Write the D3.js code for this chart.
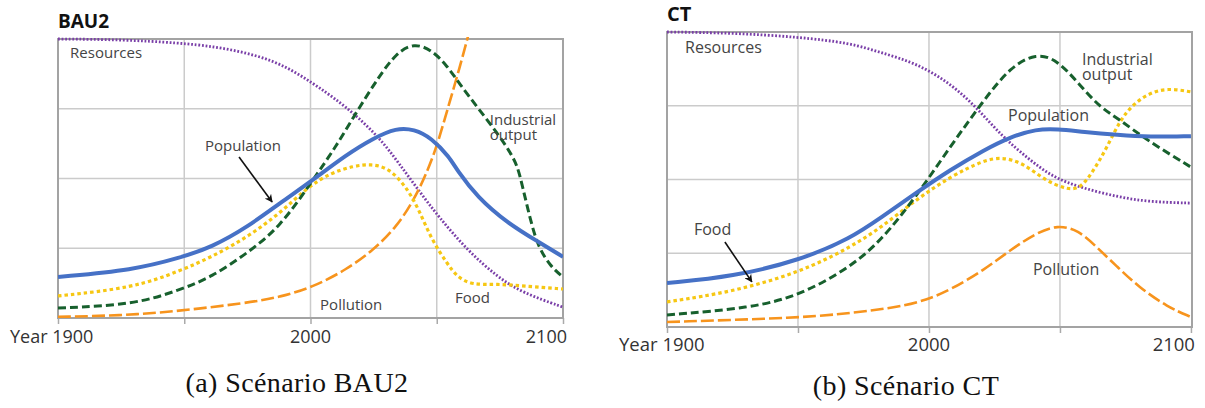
<!DOCTYPE html>
<html>
<head>
<meta charset="utf-8">
<script src="https://cdn.jsdelivr.net/npm/d3@7"></script>
<style>
  html, body { margin: 0; padding: 0; background: #fff; }
  svg { display: block; }
  .note { font-family: "Open Sans", sans-serif; fill: #444; }
  .tick-label { font-family: "Open Sans", sans-serif; fill: #333; }
  .title { font-family: "Open Sans", sans-serif; font-weight: bold; fill: #111; }
  .caption { font-family: "Liberation Serif", serif; fill: #111; }
</style>
</head>
<body>
<svg id="chart" width="1205" height="408"></svg>
<script>
/* World3 scenarios — BAU2 vs CT, two small panels */

// ─── Data: [year, relative value 0–100] ──────────────────
const years = [1900, 1950, 2000, 2050, 2100];
const gridValues = [25, 50, 75];

const bau2Resources = [[1900,100],[1925,99.8],[1948,98.6],[1962,97.3],[1975,95.0],[1988,91.4],[2001,84.2],[2012,77.1],[2020,71.0],[2028,63.8],[2035,55.5],[2043,45.5],[2051,36.0],[2062,24.4],[2074,14.7],[2084,9.0],[2100,3.9]];
const bau2Population = [[1900,14.7],[1930,17.2],[1948,21.5],[1961,25.4],[1975,32.6],[1988,41.2],[2001,49.5],[2014,58.4],[2025,64.5],[2034,68.1],[2041,67.7],[2048,64.5],[2055,57.7],[2058,53.0],[2066,43.4],[2078,34.0],[2091,26.9],[2100,21.9]];
const bau2Food = [[1900,7.9],[1930,10.8],[1948,16.8],[1961,21.9],[1975,29.0],[1988,37.6],[1999,47.0],[2008,52.0],[2017,54.5],[2024,55.2],[2031,53.8],[2038,47.0],[2043,38.7],[2048,28.0],[2054,19.7],[2058,14.7],[2064,11.8],[2074,12.2],[2084,11.5],[2100,10.4]];
const bau2Industry = [[1900,3.6],[1930,4.7],[1948,10.0],[1961,14.7],[1975,23.3],[1988,32.6],[2001,49.5],[2010,61.3],[2018,73.5],[2027,86.4],[2034,95.0],[2041,98.6],[2048,96.1],[2054,90.5],[2059,84.0],[2066,75.6],[2074,66.3],[2079,59.5],[2082,54.5],[2084,47.0],[2087,35.5],[2090,25.8],[2095,18.5],[2100,14.7]];
const bau2Pollution = [[1900,0.4],[1925,0.9],[1945,2.2],[1975,5.4],[1988,7.5],[2001,11.1],[2014,17.2],[2025,24.4],[2034,32.6],[2041,42.3],[2046,52.0],[2050,61.3],[2055,77.1],[2059,89.5],[2062,99.6],[2065,110]];

const ctResources = [[1900,100],[1925,99.7],[1950,98.3],[1970,96.3],[1982,92.9],[1995,89.5],[2008,82.7],[2018,74.6],[2028,64.5],[2038,57.0],[2047,50.9],[2058,47.2],[2072,44.1],[2084,42.4],[2100,42.0]];
const ctPopulation = [[1900,14.9],[1925,17.0],[1951,22.7],[1970,30.0],[1982,37.3],[1995,45.4],[2008,53.2],[2021,60.0],[2031,64.4],[2041,67.1],[2049,67.1],[2059,66.1],[2072,65.1],[2084,64.4],[2100,64.7]];
const ctFood = [[1900,8.5],[1925,11.9],[1951,18.6],[1970,27.0],[1982,33.9],[1995,43.1],[2008,50.9],[2021,56.6],[2028,57.6],[2036,55.6],[2044,49.8],[2053,46.4],[2058,47.1],[2063,53.2],[2068,61.0],[2073,70.2],[2078,75.5],[2084,79.3],[2091,81.0],[2100,79.7]];
const ctIndustry = [[1900,4.1],[1932,6.4],[1951,10.8],[1970,20.3],[1982,29.5],[1995,44.1],[2008,61.0],[2021,77.0],[2031,88.1],[2041,92.9],[2049,90.5],[2057,82.7],[2065,74.6],[2073,70.2],[2083,63.4],[2100,54.2]];
const ctPollution = [[1900,1.7],[1951,3.1],[1970,4.7],[1989,6.8],[1999,9.2],[2008,12.5],[2021,19.3],[2031,26.1],[2041,31.9],[2049,34.6],[2057,32.9],[2064,27.1],[2072,20.3],[2080,13.6],[2091,6.8],[2100,3.4]];

// labels: [lines, year, value]
const bau2Notes = [[['Resources'],1904.8,93.2],[['Population'],1958.2,59.9],[['Industrial','output'],2071,69.2],[['Pollution'],2003.8,2.9],[['Food'],2057.2,5.4]];
const ctNotes = [[['Resources'],1906.9,92.9],[['Industrial','output'],2058.4,88.8],[['Population'],2030.2,69.8],[['Food'],1910.3,31.2],[['Pollution'],2039.7,17.6]];

// ─── Styles ──────────────────────────────────────────────
const styles = {
  resources:  { color: '#7a3fa8', width: 2.8, dash: '1.8,1.8' },
  pollution:  { color: '#f7941d', width: 2.6, dash: '13,4' },
  food:       { color: '#f6c713', width: 3.2, dash: '3.5,3' },
  industry:   { color: '#17602d', width: 3,   dash: '8,4' },
  population: { color: '#4671c6', width: 4,   dash: null },
};

const panels = [
  {
    id: 'a', title: 'BAU2', caption: '(a) Scénario BAU2',
    left: 58, right: 563, top: 39, bottom: 318, xEnd: 2100,
    titleSize: 19, noteSize: 15, noteGap: 15.5, tickSize: 18, labelDy: 25,
    captionX: 297, captionY: 392,
    series: { resources: bau2Resources, pollution: bau2Pollution, food: bau2Food, industry: bau2Industry, population: bau2Population },
    notes: bau2Notes, arrow: [[1971.7,57.7],[1984.8,41.6]],
  },
  {
    id: 'b', title: 'CT', caption: '(b) Scénario CT',
    left: 667, right: 1192, top: 32, bottom: 327, xEnd: 2100.4,
    titleSize: 20, noteSize: 16, noteGap: 15, tickSize: 18.5, labelDy: 24,
    captionX: 906, captionY: 395,
    series: { resources: ctResources, pollution: ctPollution, food: ctFood, industry: ctIndustry, population: ctPopulation },
    notes: ctNotes, arrow: [[1922.1,28.8],[1932.4,15.3]],
  },
];

const svg = d3.select('#chart');
const defs = svg.append('defs');

defs.append('marker')
  .attr('id', 'arrowhead')
  .attr('viewBox', '0 0 10 10')
  .attr('refX', 9).attr('refY', 5)
  .attr('markerWidth', 8).attr('markerHeight', 8)
  .attr('markerUnits', 'userSpaceOnUse')
  .attr('orient', 'auto')
  .append('path')
  .attr('d', 'M0,0 L10,5 L0,10 L3,5 Z')
  .attr('fill', '#111');

// ─── Draw each panel ─────────────────────────────────────
panels.forEach(p => {
  const x = d3.scaleLinear().domain([1900, p.xEnd]).range([p.left, p.right]);
  const y = d3.scaleLinear().domain([0, 100]).range([p.bottom, p.top]);
  const g = svg.append('g');

  defs.append('clipPath').attr('id', `clip-${p.id}`)
    .append('rect')
    .attr('x', p.left).attr('y', p.top - 2)
    .attr('width', p.right - p.left).attr('height', p.bottom - p.top + 2);

  // grid
  g.append('g').selectAll('line')
    .data(gridValues).join('line')
    .attr('x1', p.left).attr('x2', p.right)
    .attr('y1', d => y(d)).attr('y2', d => y(d))
    .attr('stroke', '#cbcbcb').attr('stroke-width', 1.5);

  g.append('g').selectAll('line')
    .data(years.slice(1, -1)).join('line')
    .attr('x1', d => x(d)).attr('x2', d => x(d))
    .attr('y1', p.top).attr('y2', p.bottom)
    .attr('stroke', '#cbcbcb').attr('stroke-width', 1.5);

  // ticks below the frame
  const axis = d3.axisBottom(x).tickValues(years).tickSize(6).tickFormat('');
  const ax = g.append('g').attr('transform', `translate(0,${p.bottom})`).call(axis);
  ax.select('.domain').remove();
  ax.selectAll('.tick line').attr('stroke', '#aaa').attr('stroke-width', 1.5);

  // frame
  g.append('rect')
    .attr('x', p.left).attr('y', p.top)
    .attr('width', p.right - p.left).attr('height', p.bottom - p.top)
    .attr('fill', 'none').attr('stroke', '#a3a3a3').attr('stroke-width', 2);

  // series
  const line = d3.line()
    .x(d => x(d[0])).y(d => y(d[1]))
    .curve(d3.curveBasis);

  const lines = g.append('g').attr('clip-path', `url(#clip-${p.id})`);
  ['resources', 'pollution', 'food', 'industry', 'population'].forEach(key => {
    const s = styles[key];
    lines.append('path')
      .datum(p.series[key])
      .attr('d', line)
      .attr('fill', 'none')
      .attr('stroke', s.color)
      .attr('stroke-width', s.width)
      .attr('stroke-dasharray', s.dash)
      .attr('stroke-linecap', 'butt')
      .attr('stroke-linejoin', 'round');
  });

  // annotations (multi-line notes as tspans of one text)
  const notes = g.append('g').selectAll('text')
    .data(p.notes).join('text')
    .attr('class', 'note')
    .attr('x', d => x(d[1])).attr('y', d => y(d[2]))
    .attr('font-size', p.noteSize);
  notes.selectAll('tspan')
    .data(d => d[0].map(t => ({ t, x: x(d[1]) })))
    .join('tspan')
    .attr('x', d => d.x)
    .attr('dy', (d, i) => i ? p.noteGap : 0)
    .text(d => d.t);

  g.append('line')
    .attr('x1', x(p.arrow[0][0])).attr('y1', y(p.arrow[0][1]))
    .attr('x2', x(p.arrow[1][0])).attr('y2', y(p.arrow[1][1]))
    .attr('stroke', '#111').attr('stroke-width', 1.6)
    .attr('marker-end', 'url(#arrowhead)');

  // tick labels
  const ly = p.bottom + p.labelDy;
  g.append('text').attr('class', 'tick-label')
    .attr('x', x(1900) - 48).attr('y', ly).attr('font-size', p.tickSize)
    .text('Year 1900');
  g.append('text').attr('class', 'tick-label')
    .attr('x', x(2000)).attr('y', ly).attr('font-size', p.tickSize)
    .attr('text-anchor', 'middle').text('2000');
  g.append('text').attr('class', 'tick-label')
    .attr('x', x(2100) + 4).attr('y', ly).attr('font-size', p.tickSize)
    .attr('text-anchor', 'end').text('2100');

  // title + caption
  g.append('text').attr('class', 'title')
    .attr('x', p.left).attr('y', p.top - 11).attr('font-size', p.titleSize)
    .text(p.title);
  g.append('text').attr('class', 'caption')
    .attr('x', p.captionX).attr('y', p.captionY).attr('font-size', 28)
    .attr('letter-spacing', 0.4)
    .attr('text-anchor', 'middle').text(p.caption);
});
</script>
</body>
</html>
